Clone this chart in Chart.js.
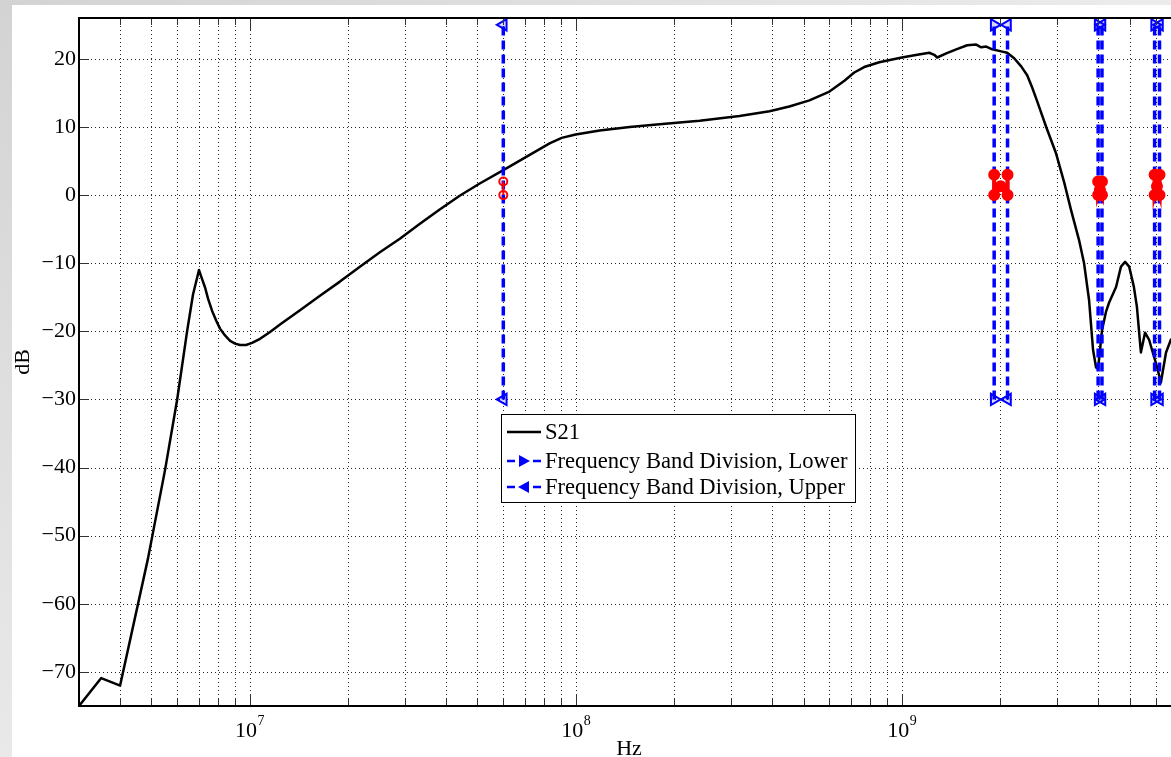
<!DOCTYPE html>
<html>
<head>
<meta charset="utf-8">
<script src="https://cdn.jsdelivr.net/npm/chart.js@4.4.0/dist/chart.umd.min.js"></script>
<style>
  html, body { margin: 0; padding: 0; background: #fff; overflow: hidden; }
  #wrap { position: relative; width: 1171px; height: 757px; overflow: hidden; }
  #topband { position: absolute; left: 0; top: 0; width: 1171px; height: 5px; background: linear-gradient(to right, #d3d3d3, #ececec); }
  #leftband { position: absolute; left: 0; top: 0; width: 12px; height: 757px; background: linear-gradient(to bottom, #d3d3d3, #e9e9e9); }
  #chart { position: absolute; left: 0; top: 0; }
</style>
</head>
<body>
<div id="wrap">
  <div id="topband"></div>
  <div id="leftband"></div>
  <canvas id="chart" width="1190" height="757"></canvas>
</div>
<script>
// S21 sweep: frequency (Hz) and magnitude (dB)
const s21Freq = [
  3.0e6, 3.51e6, 4.01e6, 4.88e6, 5.51e6, 6.0e6, 6.44e6, 6.71e6, 7.0e6, 7.15e6,
  7.31e6, 7.46e6, 7.68e6, 7.90e6, 8.12e6, 8.41e6, 8.72e6, 9.03e6, 9.35e6, 9.76e6,
  1.018e7, 1.077e7, 1.156e7, 1.24e7, 1.428e7, 1.64e7, 1.893e7, 2.18e7, 2.51e7, 2.89e7,
  3.33e7, 3.83e7, 4.41e7, 5.08e7, 6.02e7, 7.23e7, 8.32e7, 9.06e7, 1.0e8, 1.185e8,
  1.464e8, 1.808e8, 2.40e8, 3.18e8, 3.93e8, 4.52e8, 5.21e8, 6.00e8, 6.67e8, 7.15e8,
  7.67e8, 8.53e8, 1.0e9, 1.116e9, 1.214e9, 1.258e9, 1.284e9, 1.369e9, 1.469e9, 1.587e9,
  1.691e9, 1.752e9, 1.815e9, 1.894e9, 2.017e9, 2.104e9, 2.211e9, 2.323e9, 2.424e9, 2.511e9,
  2.60e9, 2.772e9, 2.973e9, 3.146e9, 3.304e9, 3.496e9, 3.622e9, 3.752e9, 3.859e9, 3.942e9,
  3.998e9, 4.113e9, 4.23e9, 4.32e9, 4.54e9, 4.70e9, 4.84e9, 4.98e9, 5.15e9, 5.26e9,
  5.41e9, 5.57e9, 5.73e9, 5.85e9, 6.06e9, 6.23e9, 6.46e9, 6.69e9, 7.08e9];
const s21Db = [
  -75, -70.9, -72.0, -53.4, -40.3, -30.0, -19.9, -14.6, -11.0, -12.3,
  -13.6, -15.2, -17.0, -18.4, -19.6, -20.6, -21.4, -21.8, -22.0, -22.0,
  -21.7, -21.1, -20.1, -19.0, -16.9, -14.8, -12.7, -10.5, -8.4, -6.4,
  -4.2, -2.1, -0.1, 1.7, 3.7, 5.9, 7.6, 8.4, 8.9, 9.5,
  10.0, 10.4, 10.9, 11.6, 12.3, 13.0, 13.9, 15.2, 16.8, 18.0,
  18.8, 19.5, 20.2, 20.6, 20.9, 20.6, 20.2, 20.8, 21.4, 22.0,
  22.1, 21.7, 21.8, 21.4, 21.1, 20.9, 20.1, 18.9, 17.6, 15.8,
  13.8, 10.0, 6.1, 1.9, -2.2, -6.6, -10.0, -15.4, -22.7, -25.3,
  -25.5, -19.8, -17.1, -15.8, -13.5, -10.5, -9.8, -10.5, -13.5, -16.4,
  -23.1, -20.2, -21.2, -22.7, -25.2, -27.5, -23.1, -21.2, -20.5];

// band division edges (Hz), drawn from bandLow to bandHigh dB
const lowerEdges = [1.92e9, 4.0e9, 5.96e9];
const upperEdges = [6.0e7, 2.11e9, 4.11e9, 6.17e9];
const bandLow = -30;
const bandHigh = 25;

// red marker traces, null breaks the line
const markFreq = [6.0e7, 6.0e7, 6.0e7, 1.92e9, 1.92e9, 2.01e9, 2.11e9, 2.11e9, 2.11e9,
  4.0e9, 4.0e9, 4.05e9, 4.11e9, 4.11e9, 4.11e9, 5.96e9, 5.96e9, 6.06e9, 6.17e9, 6.17e9];
const markDb = [2, 0, null, 3, 0, 1.3, 0, 3, null,
  2, 0, 0.8, 0, 2, null, 3, 0, 1.3, 0, 3];

// axes
const xMin = 3e6, xMax = 7.08e9;
const yMin = -75, yMax = 26;
const dbTicks = [-70, -60, -50, -40, -30, -20, -10, 0, 10, 20];
const xDecades = [1e6, 1e7, 1e8, 1e9];
const xLabelExps = [7, 8, 9];

const xGrid = [];
xDecades.forEach(d => {
  for (let m = 1; m <= 9; m++) {
    const v = d * m;
    if (v >= xMin && v <= xMax) xGrid.push({value: v, major: m === 1});
  }
});

const SERIF = '"Liberation Serif", "Times New Roman", serif';
Chart.defaults.font.family = SERIF;

function edgeLines(edges) {
  return edges.flatMap(f => [{x: f, y: bandLow}, {x: f, y: bandHigh}, {x: f, y: null}]);
}

const frame = {
  id: 'frame',
  beforeDatasetsDraw(chart) {
    const {ctx, chartArea: a, scales: {x, y}} = chart;
    ctx.save();
    ctx.strokeStyle = 'rgba(0,0,0,0.85)';
    ctx.lineWidth = 1;
    ctx.setLineDash([1, 3]);
    ctx.beginPath();
    x.ticks.forEach(t => {
      const px = Math.round(x.getPixelForValue(t.value)) + 0.5;
      ctx.moveTo(px, a.top);
      ctx.lineTo(px, a.bottom);
    });
    y.ticks.forEach(t => {
      const py = Math.round(y.getPixelForValue(t.value)) + 0.5;
      ctx.moveTo(a.left, py);
      ctx.lineTo(a.right, py);
    });
    ctx.stroke();
    ctx.restore();
  },
  afterDatasetsDraw(chart) {
    const {ctx, chartArea: a, scales: {x, y}} = chart;
    ctx.save();

    // inward tick marks
    ctx.strokeStyle = '#333';
    ctx.lineWidth = 1;
    ctx.beginPath();
    x.ticks.forEach(t => {
      const px = Math.round(x.getPixelForValue(t.value)) + 0.5;
      const len = t.major ? 12 : 7;
      ctx.moveTo(px, a.bottom);
      ctx.lineTo(px, a.bottom - len);
      ctx.moveTo(px, a.top);
      ctx.lineTo(px, a.top + len);
    });
    y.ticks.forEach(t => {
      const py = Math.round(y.getPixelForValue(t.value)) + 0.5;
      ctx.moveTo(a.left, py);
      ctx.lineTo(a.left + 10, py);
    });
    ctx.stroke();

    // box
    ctx.strokeStyle = '#000';
    ctx.lineWidth = 2;
    ctx.strokeRect(a.left, a.top, a.right - a.left, a.bottom - a.top);

    // decade labels 10^n
    ctx.fillStyle = '#000';
    ctx.textAlign = 'left';
    ctx.textBaseline = 'alphabetic';
    xLabelExps.forEach(e => {
      const px = x.getPixelForValue(Math.pow(10, e));
      ctx.font = '22px ' + SERIF;
      const wBase = ctx.measureText('10').width;
      ctx.font = '14px ' + SERIF;
      const wExp = ctx.measureText(String(e)).width;
      const x0 = px - (wBase + wExp) / 2;
      ctx.font = '22px ' + SERIF;
      ctx.fillText('10', x0, a.bottom + 31);
      ctx.font = '14px ' + SERIF;
      ctx.fillText(String(e), x0 + wBase + 0.5, a.bottom + 19);
    });

    // axis titles
    ctx.font = '22px ' + SERIF;
    ctx.textAlign = 'center';
    ctx.textBaseline = 'middle';
    ctx.fillText('Hz', (a.left + a.right) / 2, a.bottom + 43);
    ctx.save();
    ctx.translate(23, (a.top + a.bottom) / 2);
    ctx.rotate(-Math.PI / 2);
    ctx.fillText('dB', 0, 0);
    ctx.restore();

    // legend
    const lx = a.left + 422, ly = a.top + 396, lw = 354, lh = 88;
    ctx.fillStyle = '#fff';
    ctx.fillRect(lx, ly, lw, lh);
    ctx.strokeStyle = '#000';
    ctx.lineWidth = 1;
    ctx.strokeRect(lx + 0.5, ly + 0.5, lw, lh);
    const rows = [ly + 18, ly + 47, ly + 73];
    const ds = chart.data.datasets;
    const entries = [ds[3], ds[1], ds[2]];
    const sx0 = lx + 6, sx1 = lx + 40;
    entries.forEach((d, i) => {
      const ry = rows[i];
      ctx.strokeStyle = d.borderColor;
      ctx.fillStyle = d.borderColor;
      ctx.lineWidth = 2.5;
      ctx.beginPath();
      if (i === 0) {
        ctx.moveTo(sx0, ry);
        ctx.lineTo(sx1, ry);
        ctx.stroke();
      } else {
        ctx.moveTo(sx0, ry);
        ctx.lineTo(sx0 + 8, ry);
        ctx.moveTo(sx1 - 8, ry);
        ctx.lineTo(sx1, ry);
        ctx.stroke();
        const cx = (sx0 + sx1) / 2, dir = i === 1 ? 1 : -1;
        ctx.beginPath();
        ctx.moveTo(cx + dir * 6, ry);
        ctx.lineTo(cx - dir * 5, ry - 6);
        ctx.lineTo(cx - dir * 5, ry + 6);
        ctx.closePath();
        ctx.fill();
      }
      ctx.fillStyle = '#000';
      ctx.font = '22.6px ' + SERIF;
      ctx.textAlign = 'left';
      ctx.textBaseline = 'middle';
      ctx.fillText(d.label, lx + 44, ry + 1);
    });

    ctx.restore();
  }
};

new Chart(document.getElementById('chart'), {
  type: 'line',
  data: {
    datasets: [
      {
        label: 'Band edges',
        data: markFreq.map((f, i) => ({x: f, y: markDb[i]})),
        borderColor: '#ff0000',
        borderWidth: c => 3.5,
        pointStyle: 'circle',
        pointRadius: c => (c.dataIndex < 3 ? 4 : 5),
        pointBorderWidth: 2,
        pointBorderColor: '#ff0000',
        pointBackgroundColor: c => (c.dataIndex < 3 ? 'rgba(255,255,255,0)' : '#ff0000'),
        segment: { borderWidth: c => (c.p0DataIndex < 3 ? 2 : 4) },
        spanGaps: false
      },
      {
        label: 'Frequency Band Division, Lower',
        data: edgeLines(lowerEdges),
        borderColor: '#0000ff',
        borderWidth: 3.5,
        borderDash: [9, 5],
        pointStyle: 'triangle',
        rotation: 90,
        pointRadius: 6.5,
        pointBorderWidth: 2,
        pointBorderColor: '#0000ff',
        pointBackgroundColor: 'rgba(0,0,255,0.15)',
        spanGaps: false
      },
      {
        label: 'Frequency Band Division, Upper',
        data: edgeLines(upperEdges),
        borderColor: '#0000ff',
        borderWidth: 3.5,
        borderDash: [9, 5],
        pointStyle: 'triangle',
        rotation: -90,
        pointRadius: 6.5,
        pointBorderWidth: 2,
        pointBorderColor: '#0000ff',
        pointBackgroundColor: 'rgba(0,0,255,0.15)',
        spanGaps: false
      },
      {
        label: 'S21',
        data: s21Freq.map((f, i) => ({x: f, y: s21Db[i]})),
        borderColor: '#000000',
        borderWidth: 2.5,
        borderJoinStyle: 'round',
        pointRadius: 0,
        tension: 0
      }
    ]
  },
  options: {
    responsive: false,
    animation: false,
    events: [],
    layout: { padding: { top: 18, right: 11, left: 0, bottom: 0 } },
    plugins: { legend: { display: false }, tooltip: { enabled: false } },
    scales: {
      x: {
        type: 'logarithmic',
        min: xMin,
        max: xMax,
        afterBuildTicks: s => { s.ticks = xGrid.map(t => ({value: t.value, major: t.major})); },
        afterFit: s => { s.height = 51; },
        grid: { display: false, drawTicks: false },
        border: { display: false },
        ticks: { display: false }
      },
      y: {
        type: 'linear',
        min: yMin,
        max: yMax,
        afterBuildTicks: s => { s.ticks = dbTicks.map(v => ({value: v})); },
        afterFit: s => { s.width = 79; },
        grid: { display: false, drawTicks: false },
        border: { display: false },
        ticks: {
          color: '#000',
          padding: 3,
          font: { family: SERIF, size: 22 },
          callback: v => (v < 0 ? '\u2212' + (-v) : String(v))
        }
      }
    }
  },
  plugins: [frame]
});
</script>
</body>
</html>
